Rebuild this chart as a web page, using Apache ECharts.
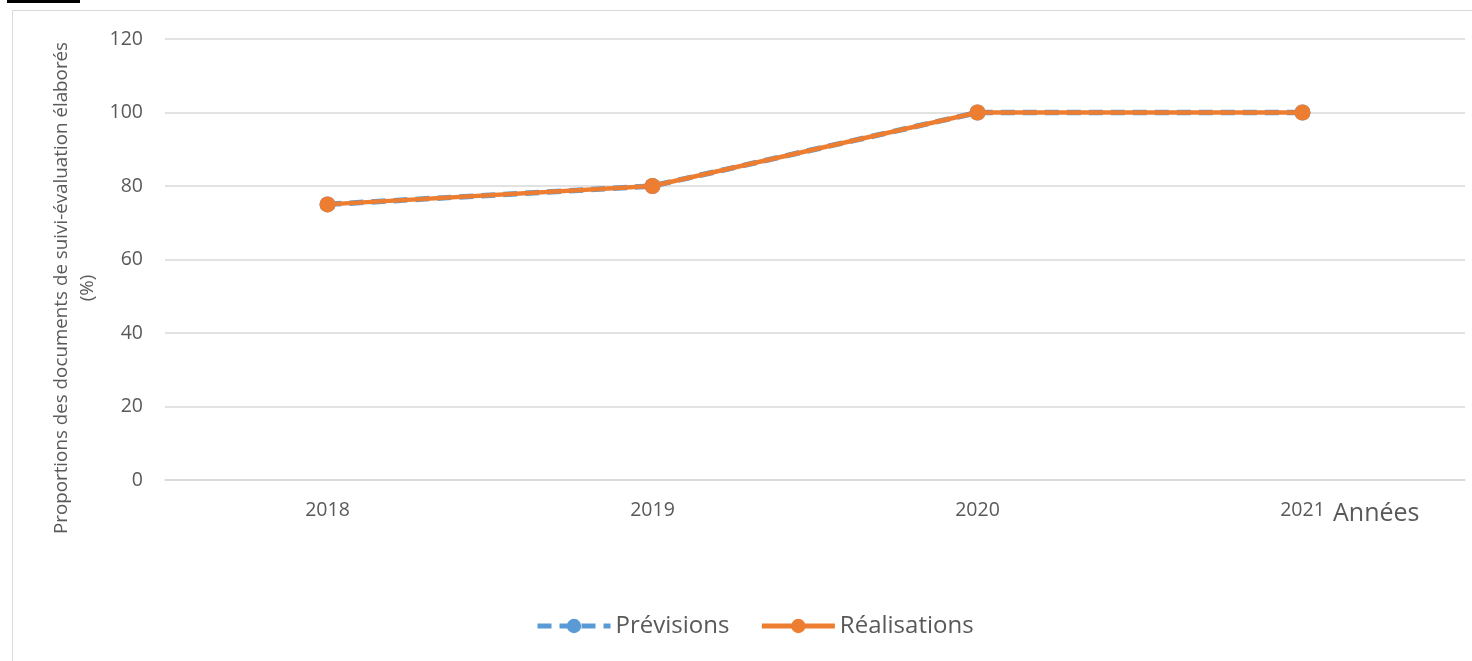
<!DOCTYPE html>
<html>
<head>
<meta charset="utf-8">
<script src="https://cdn.jsdelivr.net/npm/echarts@6/dist/echarts.min.js"></script>
<style>
html,body{margin:0;padding:0;background:#fff;}
#c{width:1472px;height:661px;}
</style>
</head>
<body>
<div id="c"></div>
<script>
const categories = ['2018', '2019', '2020', '2021'];
const previsions = [75, 80, 100, 100];
const realisations = [75, 80, 100, 100];
const yTicks = { min: 0, max: 120, interval: 20 };

const FONT = '"Open Sans", "Noto Sans", sans-serif';
const TXT = '#595959';

const chart = echarts.init(document.getElementById('c'));
chart.setOption({
  animation: false,
  backgroundColor: '#fff',
  graphic: [
    { type: 'rect', shape: { x: 12.5, y: 10.5, width: 1480, height: 700 }, style: { fill: 'none', stroke: '#d9d9d9', lineWidth: 1 }, z: -10 },
    { type: 'rect', shape: { x: 7, y: 0, width: 73, height: 3 }, style: { fill: '#000' } },
    { type: 'text', x: 75, y: 288, rotation: Math.PI / 2,
      style: { text: 'Proportions des documents de suivi-évaluation élaborés\n(%)', font: '18.8px ' + FONT, fill: TXT, align: 'center', verticalAlign: 'middle', lineHeight: 26 } },
    { type: 'text', x: 1333, y: 514,
      style: { text: 'Années', font: '25px ' + FONT, fill: TXT, align: 'left', verticalAlign: 'middle' } }
  ],
  grid: { left: 165, right: 7, top: 39, bottom: 181, containLabel: false },
  legend: {
    top: 609, left: 530,
    itemWidth: 73, itemHeight: 18, itemGap: 30,
    lineStyle: { width: 5 },
    textStyle: { fontFamily: FONT, fontSize: 24, color: TXT, padding: [0, 0, 0, 0] },
    data: ['Prévisions', 'Réalisations']
  },
  xAxis: {
    type: 'category', data: categories, boundaryGap: true,
    axisLine: { show: true, lineStyle: { color: '#d9d9d9', width: 1.5 } },
    axisTick: { show: false },
    axisLabel: { fontFamily: FONT, fontSize: 19.5, color: TXT, margin: 20 }
  },
  yAxis: {
    type: 'value', min: yTicks.min, max: yTicks.max, interval: yTicks.interval,
    axisLine: { show: false }, axisTick: { show: false },
    axisLabel: { fontFamily: FONT, fontSize: 19.5, color: TXT, margin: 22 },
    splitLine: { lineStyle: { color: '#d9d9d9', width: 1.5 } }
  },
  series: [
    { name: 'Prévisions', type: 'line', data: previsions,
      symbol: 'circle', symbolSize: 16,
      lineStyle: { color: '#5B9BD5', width: 5.5, type: [14, 8] },
      itemStyle: { color: '#5B9BD5' }, z: 2 },
    { name: 'Réalisations', type: 'line', data: realisations,
      symbol: 'circle', symbolSize: 16,
      lineStyle: { color: '#ED7D31', width: 4.5 },
      itemStyle: { color: '#ED7D31' }, z: 3 }
  ]
});
</script>
</body>
</html>
